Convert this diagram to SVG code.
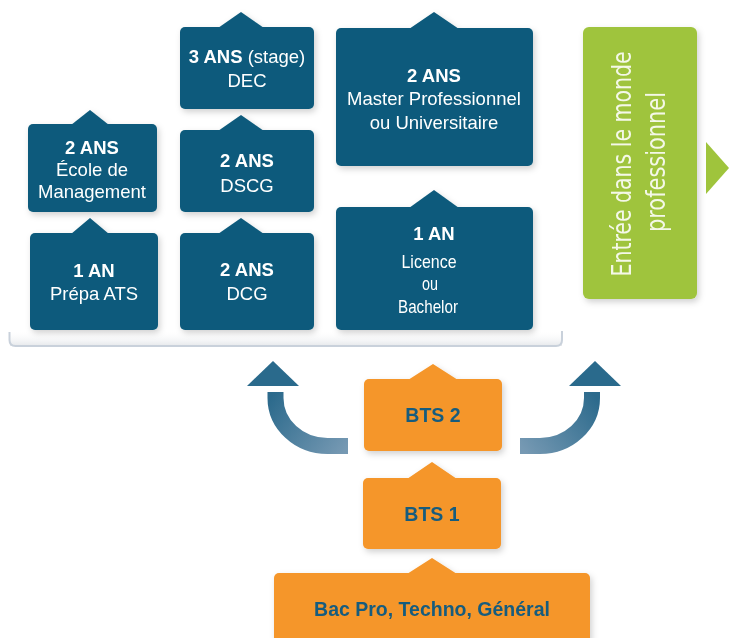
<svg xmlns="http://www.w3.org/2000/svg" width="729" height="638" viewBox="0 0 729 638">
<defs>
<style>
.blue{fill:#0B5A7B}
.orange{fill:#F5962A}
.green{fill:#9FC43C}
.b{font-family:"Liberation Sans",Arial,sans-serif;font-weight:bold;font-size:18.5px;fill:#FFFFFF;text-anchor:middle}
.r{font-family:"Liberation Sans",Arial,sans-serif;font-size:18.5px;fill:#FFFFFF;text-anchor:middle}
.n{font-family:"Liberation Sans",Arial,sans-serif;font-size:18.5px;fill:#FFFFFF;text-anchor:middle}
.o{font-family:"Liberation Sans",Arial,sans-serif;font-weight:bold;font-size:19.5px;fill:#165C7E;text-anchor:middle}
.v{font-family:"DejaVu Sans Condensed","DejaVu Sans",sans-serif;font-size:26px;fill:#F4F8E8;text-anchor:middle}
</style>
<filter id="sh" x="-20%" y="-20%" width="140%" height="150%">
<feDropShadow dx="2" dy="3" stdDeviation="3" flood-color="#000" flood-opacity="0.18"/>
</filter>
<linearGradient id="gl" gradientUnits="userSpaceOnUse" x1="275" y1="392" x2="348" y2="446">
<stop offset="0" stop-color="#2C6A8C"/><stop offset="1" stop-color="#7699B3"/>
</linearGradient>
<linearGradient id="gr" gradientUnits="userSpaceOnUse" x1="592" y1="392" x2="520" y2="446">
<stop offset="0" stop-color="#2C6A8C"/><stop offset="1" stop-color="#7699B3"/>
</linearGradient>
<linearGradient id="gb" x1="0" y1="0" x2="0" y2="1">
<stop offset="0" stop-color="#FFFFFF" stop-opacity="0"/><stop offset="1" stop-color="#E6E8EB"/>
</linearGradient>
</defs>
<rect width="729" height="638" fill="#FFFFFF"/>

<g id="bracket">
<rect x="10" y="330" width="552" height="16" fill="url(#gb)"/>
<path d="M9.5,332 V340 Q9.5,346 15.5,346 H556 Q562,346 562,340 V331" fill="none" stroke="#C9D1DB" stroke-width="2"/>
</g>

<g id="connectors">
<path d="M275.5,392 V398 A52 48 0 0 0 327.5,446 H348" fill="none" stroke="url(#gl)" stroke-width="16"/>
<polygon points="247,386 273,361 299,386" fill="#2A6A8C"/>
<path d="M592,392 V398 A52 48 0 0 1 540,446 H520" fill="none" stroke="url(#gr)" stroke-width="16"/>
<polygon points="569,386 595,361 621,386" fill="#2A6A8C"/>
<polygon points="706,142 729,168 706,194" fill="#9FC43C"/>
</g>

<g id="ecole" filter="url(#sh)">
<rect class="blue" x="28" y="124" width="129" height="88" rx="5"/>
<polygon class="blue" points="71,125 90,110 109,125"/>
<text class="b" x="92" y="154">2 ANS</text>
<text class="r" x="92" y="176">École de</text>
<text class="r" x="92" y="198">Management</text>
</g>

<g id="prepa" filter="url(#sh)">
<rect class="blue" x="30" y="233" width="128" height="97" rx="5"/>
<polygon class="blue" points="71,234 90,218 109,234"/>
<text class="b" x="94" y="277">1 AN</text>
<text class="r" x="94" y="300">Prépa ATS</text>
</g>

<g id="dec" filter="url(#sh)">
<rect class="blue" x="180" y="27" width="134" height="82" rx="5"/>
<polygon class="blue" points="218,28 241,12 264,28"/>
<text class="r" x="247" y="63"><tspan font-weight="bold">3 ANS</tspan> (stage)</text>
<text class="r" x="247" y="87">DEC</text>
</g>

<g id="dscg" filter="url(#sh)">
<rect class="blue" x="180" y="130" width="134" height="82" rx="5"/>
<polygon class="blue" points="218,131 241,115 264,131"/>
<text class="b" x="247" y="167">2 ANS</text>
<text class="r" x="247" y="192">DSCG</text>
</g>

<g id="dcg" filter="url(#sh)">
<rect class="blue" x="180" y="233" width="134" height="97" rx="5"/>
<polygon class="blue" points="218,234 241,218 264,234"/>
<text class="b" x="247" y="276">2 ANS</text>
<text class="r" x="247" y="300">DCG</text>
</g>

<g id="master" filter="url(#sh)">
<rect class="blue" x="336" y="28" width="197" height="138" rx="5"/>
<polygon class="blue" points="409,29 434,12 459,29"/>
<text class="b" x="434" y="82">2 ANS</text>
<text class="r" x="434" y="105">Master Professionnel</text>
<text class="r" x="434" y="129">ou Universitaire</text>
</g>

<g id="licence" filter="url(#sh)">
<rect class="blue" x="336" y="207" width="197" height="123" rx="5"/>
<polygon class="blue" points="409,208 434,190 459,208"/>
<text class="b" x="434" y="240">1 AN</text>
<text class="n" x="429" y="268" textLength="55" lengthAdjust="spacingAndGlyphs">Licence</text>
<text class="n" x="430" y="290" textLength="16" lengthAdjust="spacingAndGlyphs">ou</text>
<text class="n" x="428" y="313" textLength="60" lengthAdjust="spacingAndGlyphs">Bachelor</text>
</g>

<g id="entree" filter="url(#sh)">
<rect class="green" x="583" y="27" width="114" height="272" rx="6"/>
<text class="v" transform="translate(631,164) rotate(-90)" x="0" y="0" textLength="225" lengthAdjust="spacingAndGlyphs">Entrée dans le monde</text>
<text class="v" transform="translate(665,162) rotate(-90)" x="0" y="0" textLength="140" lengthAdjust="spacingAndGlyphs">professionnel</text>
</g>

<g id="bts2" filter="url(#sh)">
<rect class="orange" x="364" y="379" width="138" height="72" rx="5"/>
<polygon class="orange" points="408,380 433,364 458,380"/>
<text class="o" x="433" y="422">BTS 2</text>
</g>

<g id="bts1" filter="url(#sh)">
<rect class="orange" x="363" y="478" width="138" height="71" rx="5"/>
<polygon class="orange" points="407,479 432,462 457,479"/>
<text class="o" x="432" y="521">BTS 1</text>
</g>

<g id="bac" filter="url(#sh)">
<rect class="orange" x="274" y="573" width="316" height="75" rx="5"/>
<polygon class="orange" points="407,574 432,558 457,574"/>
<text class="o" x="432" y="616">Bac Pro, Techno, Général</text>
</g>
</svg>
